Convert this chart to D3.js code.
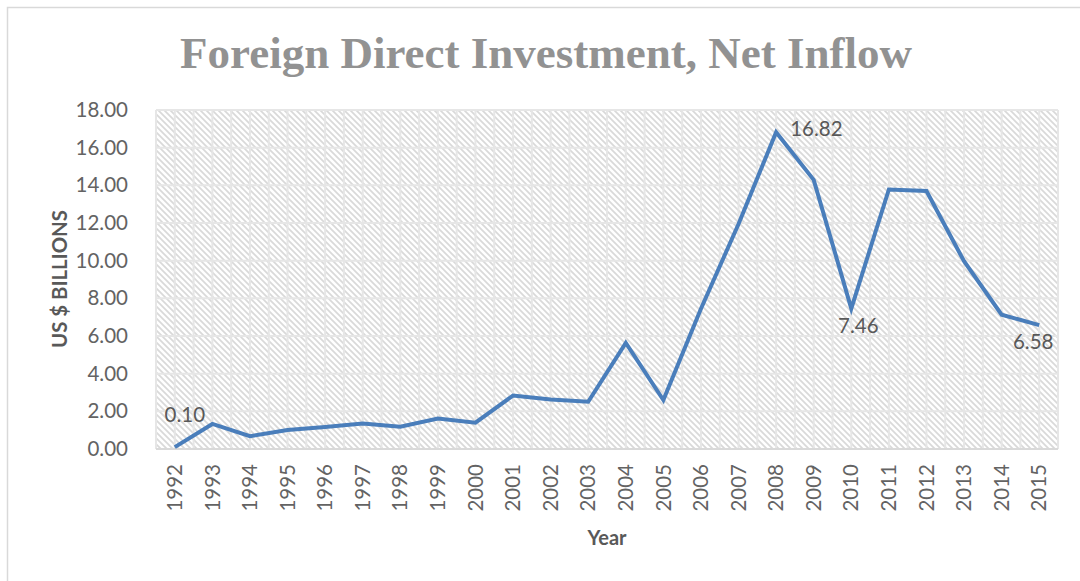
<!DOCTYPE html>
<html>
<head>
<meta charset="utf-8">
<script src="https://cdn.jsdelivr.net/npm/d3@7"></script>
<style>
  body { margin: 0; background: #fff; }
  svg text { font-family: Lato, "Open Sans", sans-serif; }
</style>
</head>
<body>
<div id="chart"></div>
<script>
// data
const years = ["1992","1993","1994","1995","1996","1997","1998","1999","2000","2001","2002","2003",
               "2004","2005","2006","2007","2008","2009","2010","2011","2012","2013","2014","2015"];
const fdi = [0.10, 1.33, 0.68, 1.01, 1.17, 1.36, 1.18, 1.62, 1.40, 2.84, 2.63, 2.51,
             5.63, 2.60, 7.45, 11.95, 16.82, 14.29, 7.46, 13.78, 13.70, 9.97, 7.13, 6.58];
const yTicks = [0, 2, 4, 6, 8, 10, 12, 14, 16, 18];
const labelledYears = ["1992", "2008", "2010", "2015"];

const width = 1080, height = 581;
const margin = {top: 110, right: 22, bottom: 132, left: 156};

const svg = d3.select("#chart").append("svg")
    .attr("width", width)
    .attr("height", height);

// outer chart frame
svg.append("rect")
    .attr("x", 7.5).attr("y", 7.5)
    .attr("width", 1100).attr("height", 600)
    .attr("fill", "#fff")
    .attr("stroke", "#d9d9d9")
    .attr("stroke-width", 1.5);

// hatch fill for the plot area
const defs = svg.append("defs");
const pat = defs.append("pattern")
    .attr("id", "hatch")
    .attr("patternUnits", "userSpaceOnUse")
    .attr("width", 6).attr("height", 6);
pat.append("rect").attr("width", 6).attr("height", 6).attr("fill", "#fff");
pat.append("path")
    .attr("d", "M0,0L6,6M-1,5L1,7M5,-1L7,1")
    .attr("stroke", "#d9d9d9")
    .attr("stroke-width", 1.7);

const x = d3.scaleBand()
    .domain(years)
    .range([margin.left, width - margin.right]);

const y = d3.scaleLinear()
    .domain([0, 18])
    .range([height - margin.bottom, margin.top]);

const cx = d => x(d) + x.bandwidth() / 2;

svg.append("rect")
    .attr("x", margin.left).attr("y", margin.top)
    .attr("width", x.range()[1] - margin.left)
    .attr("height", y(0) - margin.top)
    .attr("fill", "url(#hatch)");

// gridlines: vertical at category edges and centres
const grid = svg.append("g").attr("stroke", "#e6e6e6").attr("stroke-width", 2);
const vLines = [];
years.forEach(d => { vLines.push(x(d)); vLines.push(cx(d)); });
vLines.push(x.range()[1]);
grid.selectAll(".vline").data(vLines).join("line")
    .attr("class", "vline")
    .attr("x1", d => d).attr("x2", d => d)
    .attr("y1", margin.top).attr("y2", y(0));
grid.selectAll(".hline").data(yTicks.filter(t => t > 0)).join("line")
    .attr("class", "hline")
    .attr("x1", margin.left).attr("x2", x.range()[1])
    .attr("y1", d => y(d)).attr("y2", d => y(d));

// x axis baseline
svg.append("line")
    .attr("x1", margin.left).attr("x2", x.range()[1])
    .attr("y1", y(0)).attr("y2", y(0))
    .attr("stroke", "#d9d9d9")
    .attr("stroke-width", 2);

// y axis (labels only)
const yAxis = svg.append("g")
    .attr("transform", `translate(${margin.left},0)`)
    .call(d3.axisLeft(y).tickValues(yTicks).tickFormat(d3.format(".2f")).tickSize(0).tickPadding(28));
yAxis.select(".domain").remove();
yAxis.selectAll("text")
    .attr("font-family", "Lato, sans-serif")
    .attr("font-size", 20.5)
    .attr("fill", "#636363");

// x axis (rotated year labels)
const xAxis = svg.append("g")
    .attr("transform", `translate(0,${y(0)})`)
    .call(d3.axisBottom(x).tickSize(0));
xAxis.select(".domain").remove();
xAxis.selectAll("text")
    .attr("font-family", "Lato, sans-serif")
    .attr("font-size", 20.5)
    .attr("fill", "#636363")
    .attr("transform", "rotate(-90)")
    .attr("text-anchor", "end")
    .attr("x", -15)
    .attr("y", 0)
    .attr("dy", "0.35em");

// the series line
const line = d3.line()
    .x((d, i) => cx(years[i]))
    .y(d => y(d));

svg.append("path")
    .datum(fdi)
    .attr("fill", "none")
    .attr("stroke", "#4a7ebb")
    .attr("stroke-width", 4)
    .attr("stroke-linejoin", "miter")
    .attr("d", line);

// data labels
const labelPlace = {
  "1992": {dx: 10, dy: -25, anchor: "middle"},
  "2008": {dx: 14, dy: 4, anchor: "start"},
  "2010": {dx: 7, dy: 24, anchor: "middle"},
  "2015": {dx: -6, dy: 24, anchor: "middle"}
};
svg.append("g").selectAll("text")
    .data(labelledYears)
    .join("text")
    .attr("x", d => cx(d) + labelPlace[d].dx)
    .attr("y", d => y(fdi[years.indexOf(d)]) + labelPlace[d].dy)
    .attr("text-anchor", d => labelPlace[d].anchor)
    .attr("font-size", 20.5)
    .attr("fill", "#595959")
    .text(d => fdi[years.indexOf(d)].toFixed(2));

// title
const title = svg.append("text")
    .attr("x", 546)
    .attr("y", 68)
    .attr("text-anchor", "middle")
    .style("font-family", "'Liberation Serif', 'Times New Roman', serif")
    .attr("font-weight", "bold")
    .attr("font-size", 44)
    .attr("fill", "#929292")
    .text("Foreign Direct Investment, Net Inflow");
const tw = title.node().getComputedTextLength();
title.attr("font-size", 44 * 732 / tw);

// axis titles
const yTitle = svg.append("text")
    .attr("transform", "translate(67,279) rotate(-90)")
    .attr("text-anchor", "middle")
    .attr("font-weight", "bold")
    .attr("font-size", 18)
    .attr("fill", "#595959")
    .text("US $ BILLIONS");
const yw = yTitle.node().getComputedTextLength();
yTitle.attr("font-size", 18 * 138 / yw);

svg.append("text")
    .attr("x", 607)
    .attr("y", 545)
    .attr("text-anchor", "middle")
    .attr("font-weight", "bold")
    .attr("font-size", 20)
    .attr("fill", "#595959")
    .text("Year");
</script>
</body>
</html>
